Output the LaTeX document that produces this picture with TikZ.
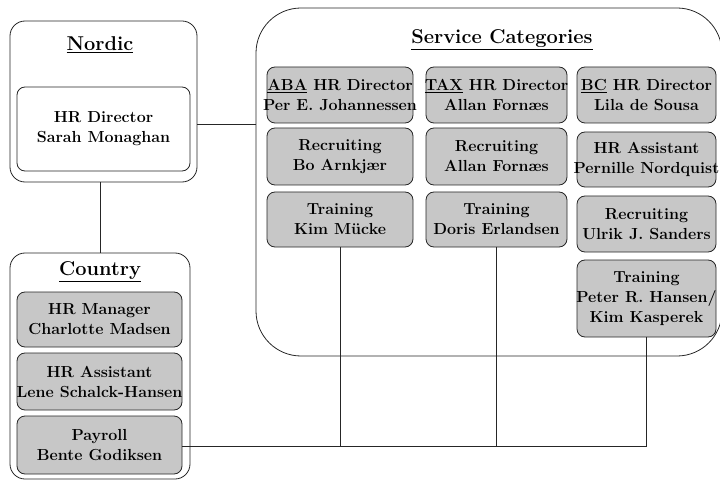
\documentclass[tikz,border=0pt]{standalone}
\usepackage{fontspec}
\newcommand\ovline[1]{\makebox[0pt][c]{#1}}
\begin{document}
\begin{tikzpicture}[x=1pt,y=-1pt,
  outerbox/.style={draw=black!85, line width=0.8pt, rounded corners=15pt, minimum width=#1, inner sep=0pt},
  pbox/.style={draw=black!85, line width=0.8pt, fill=black!22, rounded corners=8pt, align=center,
     font=\fontsize{16}{20}\selectfont\bfseries, inner sep=0pt},
  wbox/.style={pbox, fill=white},
  ttl/.style={font=\fontsize{20}{24}\selectfont\bfseries},
  conn/.style={draw=black!85, line width=0.8pt}]
\useasboundingbox (0,0) rectangle (720,481);
\begin{scope}
\clip (0,0) rectangle (720,481);
% outer boxes
\node[outerbox=187pt, minimum height=161pt] (nordic) at (103.5,101.5) {};
\node[outerbox=180pt, minimum height=226pt] (country) at (100,366) {};
\node[outerbox=466pt, minimum height=348pt, rounded corners=45pt] (svc) at (489,182) {};
\end{scope}
% titles
\node[ttl] (tnordic) at (100,45) {\underline{Nordic}};
\node[ttl] (tcountry) at (100,272) {\underline{Country}};
\node[ttl] (tsvc) at (502,40) {\underline{Service Categories}};
% Nordic
\node[wbox, minimum width=173pt, minimum height=84pt] (hrdir) at (103.5,129) {HR Director\\Sarah Monaghan};
% Country
\node[pbox, minimum width=165pt, minimum height=55pt] (cm1) at (99.5,319.5) {HR Manager\\Charlotte Madsen};
\node[pbox, minimum width=165pt, minimum height=57pt] (cm2) at (99.5,381.5) {HR Assistant\\\ovline{Lene Schalck-Hansen}};
\node[pbox, minimum width=165pt, minimum height=58pt] (cm3) at (99.5,445) {Payroll\\Bente Godiksen};
% Column 1
\node[pbox, minimum width=146pt, minimum height=56pt] (a1) at (340,95) {\ovline{\underline{ABA} HR Director}\\\ovline{Per E. Johannessen}};
\node[pbox, minimum width=146pt, minimum height=57pt] (a2) at (340,156.5) {Recruiting\\Bo Arnkjær};
\node[pbox, minimum width=146pt, minimum height=55pt] (a3) at (340,219.5) {Training\\Kim Mücke};
% Column 2
\node[pbox, minimum width=141pt, minimum height=56pt] (b1) at (496.5,95) {\ovline{\underline{TAX} HR Director}\\Allan Fornæs};
\node[pbox, minimum width=141pt, minimum height=57pt] (b2) at (496.5,156.5) {Recruiting\\Allan Fornæs};
\node[pbox, minimum width=141pt, minimum height=55pt] (b3) at (496.5,219.5) {Training\\\ovline{Doris Erlandsen}};
% Column 3
\node[pbox, minimum width=139pt, minimum height=56pt] (c1) at (646.5,95) {\ovline{\underline{BC} HR Director}\\Lila de Sousa};
\node[pbox, minimum width=139pt, minimum height=55pt] (c2) at (646.5,159.5) {HR Assistant\\\ovline{Pernille Nordquist}};
\node[pbox, minimum width=139pt, minimum height=56pt] (c3) at (646.5,224) {Recruiting\\Ulrik J. Sanders};
\node[pbox, minimum width=139pt, minimum height=77pt] (c4) at (646.5,298.5) {Training\\\ovline{Peter R. Hansen/}\\Kim Kasperek};
% connectors
\coordinate (j1) at (200,124);
\coordinate (bus) at (190,446);
\draw[conn] (nordic.east |- j1) -- (svc.west |- j1);
\draw[conn] (country.north |- nordic.south) -- (country.north);
\draw[conn] (cm3.east |- bus) -- (c4.south |- bus) -- (c4.south);
\draw[conn] (a3.south) -- (a3.south |- bus);
\draw[conn] (b3.south) -- (b3.south |- bus);
\end{tikzpicture}
\end{document}
